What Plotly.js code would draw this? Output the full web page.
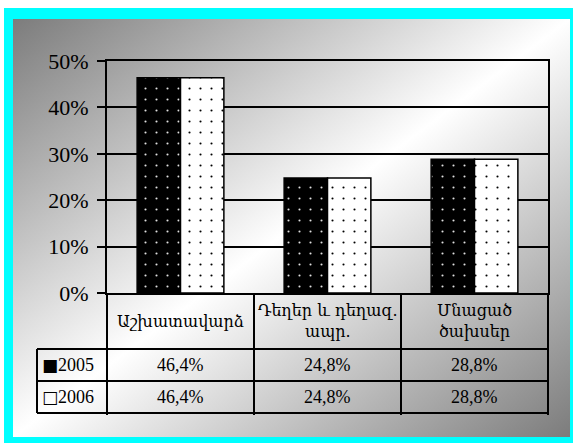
<!DOCTYPE html>
<html><head><meta charset="utf-8">
<script src="https://cdn.plot.ly/plotly-3.0.1.min.js"></script>
<style>
html,body{margin:0;padding:0;width:573px;height:443px;overflow:hidden;background:#fff;}
#frame{position:absolute;left:4px;top:8px;width:557px;height:418px;border-style:solid;border-color:#00ffff;border-width:11px 10px 10px 9px;background:linear-gradient(to bottom right,#7c7c7c 0%,#ffffff 50%,#7c7c7c 100%);}
#chart{position:absolute;left:0;top:0;width:573px;height:443px;}
</style></head><body>
<div id="frame"></div><div id="chart"></div>
<script>
// ---- data ----
const categories = ['Աշխատավարձ', 'Դեղեր և դեղազ. ապր.', 'Մնացած ծախսեր'];
const categoryLabels = ['Աշխատավարձ', 'Դեղեր և դեղազ.<br>ապր.', 'Մնացած<br>ծախսեր'];
const seriesNames = ['2005', '2006'];
const values2005 = [46.4, 24.8, 28.8];
const values2006 = [46.4, 24.8, 28.8];
const yTickVals = [0, 10, 20, 30, 40, 50];
const yTickText = ['0%', '10%', '20%', '30%', '40%', '50%'];

// ---- layout constants (pixels) ----
const W = 573, H = 443;
const L = 107, R = 548, T = 61, B = 293;
const px = x => (x - L) / (R - L);
const py = y => (B - y) / (B - T);
const FONT = 'Liberation Serif, Times New Roman, serif';
const ARM_FONT = 'DejaVu Serif, Liberation Serif, serif';
const fmt = v => v.toFixed(1).replace('.', ',') + '%';

const traces = [
  {type: 'bar', name: seriesNames[0], x: categories, y: values2005,
   marker: {color: '#000000', line: {color: '#000000', width: 1.5},
            pattern: {shape: '.', bgcolor: '#000000', fgcolor: '#e0e0e0', size: 11, solidity: 0.03}}},
  {type: 'bar', name: seriesNames[1], x: categories, y: values2006,
   marker: {color: '#ffffff', line: {color: '#000000', width: 1.5},
            pattern: {shape: '.', bgcolor: '#ffffff', fgcolor: '#000000', size: 11, solidity: 0.03}}}
];

const rowY = [365, 397];
const seriesVals = [values2005, values2006];
const annotations = [];
categories.forEach((c, i) => {
  annotations.push({xref: 'x', yref: 'paper', x: c, y: py(321), text: categoryLabels[i],
    showarrow: false, yanchor: 'middle', xanchor: 'center', font: {family: ARM_FONT, size: 16, color: '#000'}});
  seriesVals.forEach((vals, s) => {
    annotations.push({xref: 'x', yref: 'paper', x: c, y: py(rowY[s]), text: fmt(vals[i]),
      showarrow: false, yanchor: 'middle', xanchor: 'center', font: {family: FONT, size: 18, color: '#000'}});
  });
});
const keys = ['■', '<b>□</b>'];
seriesNames.forEach((n, s) => {
  annotations.push({xref: 'paper', yref: 'paper', x: px(40), y: py(rowY[s]),
    text: '<span style="font-family:DejaVu Sans;font-size:17px">' + keys[s] + '</span>' + n,
    showarrow: false, yanchor: 'middle', xanchor: 'left', font: {family: FONT, size: 18, color: '#000'}});
});

const line = (x0, y0, x1, y1) => ({type: 'line', xref: 'paper', yref: 'paper',
  x0: px(x0), y0: py(y0), x1: px(x1), y1: py(y1), line: {color: '#000', width: 2}});
const shapes = [
  line(37, 349, R, 349), line(37, 381, R, 381), line(37, 413, R, 413),
  line(37, 349, 37, 413)
];

const layout = {
  width: W, height: H,
  margin: {l: L, r: W - R, t: T, b: H - B, pad: 0},
  paper_bgcolor: 'rgba(0,0,0,0)', plot_bgcolor: 'rgba(0,0,0,0)',
  showlegend: false,
  barmode: 'group', bargap: 0.41, bargroupgap: 0,
  font: {family: FONT, color: '#000'},
  xaxis: {type: 'category', range: [-0.5, 2.5], showticklabels: false,
    ticks: 'outside', tickson: 'boundaries', ticklen: 120, tickwidth: 2, tickcolor: '#000',
    showline: true, linecolor: '#000', linewidth: 2, mirror: true, showgrid: false, zeroline: false},
  yaxis: {range: [0, 50], tickvals: yTickVals, ticktext: yTickText,
    ticks: 'outside', ticklen: 8, tickwidth: 2, tickcolor: '#000',
    showline: true, linecolor: '#000', linewidth: 2, mirror: true,
    showgrid: true, gridcolor: '#000', gridwidth: 2, zeroline: false,
    tickfont: {family: FONT, size: 22, color: '#000'}, ticklabelstandoff: 4},
  annotations: annotations, shapes: shapes
};
Plotly.newPlot('chart', traces, layout, {staticPlot: true, displayModeBar: false});
</script>
</body></html>
